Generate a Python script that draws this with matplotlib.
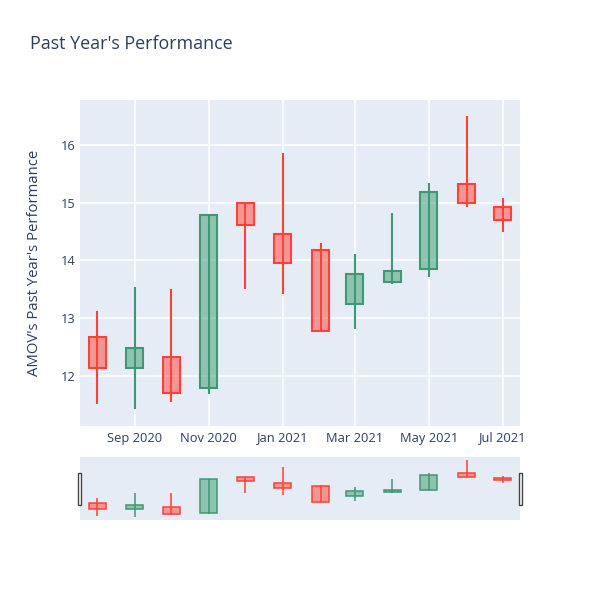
import matplotlib
matplotlib.use("Agg")
import matplotlib.pyplot as plt
import matplotlib.dates as mdates
from matplotlib.patches import Rectangle

dates = ["2020-08-01", "2020-09-01", "2020-10-01", "2020-11-01", "2020-12-01", "2021-01-01",
         "2021-02-01", "2021-03-01", "2021-04-01", "2021-05-01", "2021-06-01", "2021-07-01"]
opens  = [12.67, 12.14, 12.32, 11.78, 15.00, 14.46, 14.18, 13.24, 13.62, 13.85, 15.32, 14.93]
highs  = [13.13, 13.54, 13.51, 14.80, 15.00, 15.87, 14.31, 14.11, 14.82, 15.35, 16.50, 15.09]
lows   = [11.51, 11.42, 11.54, 11.68, 13.51, 13.41, 12.77, 12.81, 13.59, 13.71, 14.92, 14.49]
closes = [12.13, 12.48, 11.70, 14.79, 14.62, 13.96, 12.77, 13.76, 13.82, 15.19, 14.99, 14.70]

xtick_dates = ["2020-09-01", "2020-11-01", "2021-01-01", "2021-03-01", "2021-05-01", "2021-07-01"]
xtick_labels = ["Sep 2020", "Nov 2020", "Jan 2021", "Mar 2021", "May 2021", "Jul 2021"]
yticks = [12, 13, 14, 15, 16]

INC = "#3D9970"
DEC = "#FF4136"
BG = "#E5ECF6"
TXT = "#2a3f5f"

plt.rcParams['font.family'] = ['Open Sans', 'DejaVu Sans']

x = mdates.datestr2num(dates)
fig = plt.figure(figsize=(6, 6), dpi=100)
ax = fig.add_axes([80/600, 1-426/600, 440/600, 326/600])
ax2 = fig.add_axes([80/600, 1-520/600, 440/600, 63/600])

def draw(a, lw):
    for xi, o, h, l, c in zip(x, opens, highs, lows, closes):
        col = INC if c >= o else DEC
        a.vlines(xi, l, h, color=col, linewidth=lw, zorder=2)
        a.bar(xi, abs(c - o), bottom=min(o, c), width=14, color=col, alpha=0.5,
              linewidth=0, zorder=3)
        a.bar(xi, abs(c - o), bottom=min(o, c), width=14, facecolor="none",
              edgecolor=col, linewidth=lw, zorder=4)

draw(ax, 1.5)
draw(ax2, 1.1)

xmin = mdates.datestr2num("2020-07-18")
xmax = mdates.datestr2num("2021-07-15")
for a in (ax, ax2):
    a.set_facecolor(BG)
    a.set_xlim(xmin, xmax)
    a.set_ylim(11.13, 16.78)
    for s in a.spines.values():
        s.set_visible(False)

ax.set_xticks(mdates.datestr2num(xtick_dates))
ax.set_xticklabels(xtick_labels)
ax.set_yticks(yticks)
ax.set_yticklabels([str(v) for v in yticks])
ax.grid(True, color="white", linewidth=1.1, zorder=0)
ax.set_axisbelow(True)
ax.tick_params(axis="y", length=0, labelsize=9.3, labelcolor=TXT, pad=3)
ax.tick_params(axis="x", length=0, labelsize=9.3, labelcolor=TXT, pad=4)
ax.set_ylabel("AMOV's Past Year's Performance", fontsize=10.7, color=TXT)
ax.yaxis.label.set_va("center")
ax.yaxis.set_label_coords(-45/440, 0.5)

ax2.set_xticks([])
ax2.set_yticks([])

# range slider handles
for xp in (77.5, 518.5):
    fig.patches.append(Rectangle((xp/600, 1-505/600), 3.5/600, 32/600,
                                 transform=fig.transFigure, facecolor="white",
                                 edgecolor="#444444", linewidth=1))

fig.text(30/600, 1-44/600, "Past Year's Performance", fontsize=12.9, color=TXT,
         ha="left", va="center")

fig.savefig("out.png", dpi=100)
